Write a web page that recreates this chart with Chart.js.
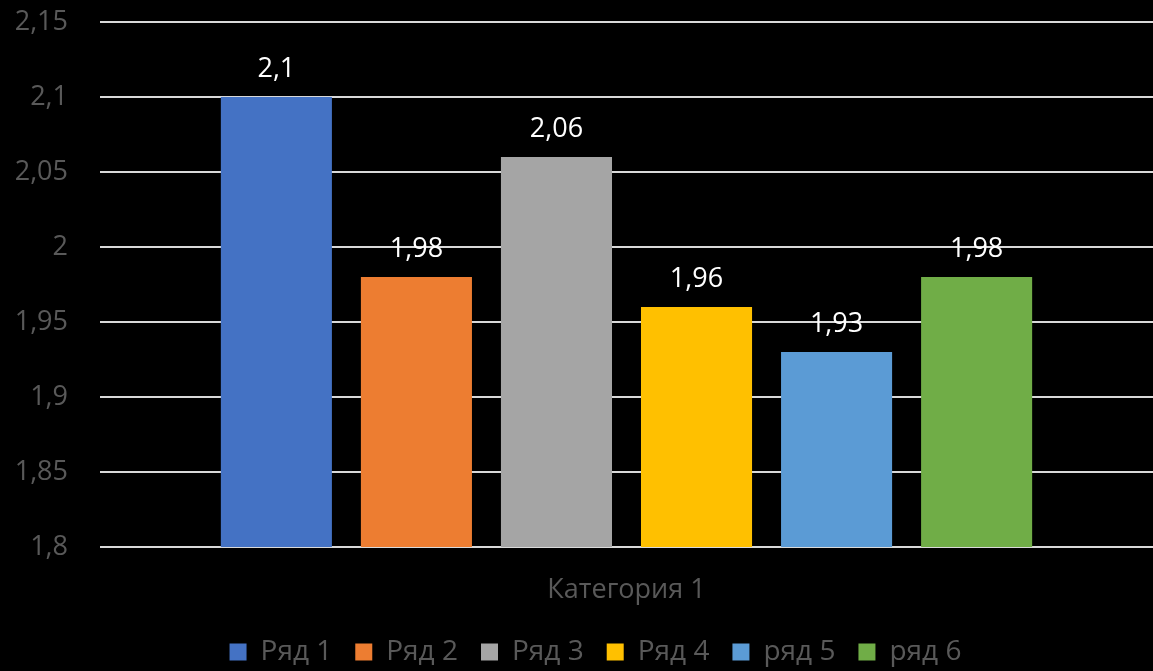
<!DOCTYPE html>
<html>
<head>
<meta charset="utf-8">
<script src="https://cdn.jsdelivr.net/npm/chart.js@4"></script>
<style>
html,body{margin:0;padding:0;background:#000;}
#wrap{width:1153px;height:671px;position:relative;}
</style>
</head>
<body>
<div id="wrap"><canvas id="c" width="1153" height="671"></canvas></div>
<script>
const categories = ['Категория 1'];
const seriesNames = ['Ряд 1', 'Ряд 2', 'Ряд 3', 'Ряд 4', 'ряд 5', 'ряд 6'];
const seriesValues = [2.1, 1.98, 2.06, 1.96, 1.93, 1.98];
const seriesColors = ['#4472C4', '#ED7D31', '#A5A5A5', '#FFC000', '#5B9BD5', '#70AD47'];
const yMin = 1.8, yMax = 2.15, yStep = 0.05;

const FONT = "'Open Sans', 'Liberation Sans', sans-serif";
const FS = 27;
const fmt = v => String(Math.round(v * 100) / 100).replace('.', ',');

const labelPlugin = {
  id: 'barLabels',
  afterDatasetsDraw(chart) {
    const ctx = chart.ctx;
    ctx.save();
    ctx.fillStyle = '#ffffff';
    ctx.font = FS + "px " + FONT;
    ctx.textAlign = 'center';
    ctx.textBaseline = 'alphabetic';
    chart.data.datasets.forEach((ds, i) => {
      const meta = chart.getDatasetMeta(i);
      meta.data.forEach((bar, j) => {
        ctx.fillText(fmt(ds.data[j]), bar.x, bar.y - 20);
      });
    });
    ctx.restore();
  }
};

const legendShift = {
  id: 'legendShift',
  afterLayout(chart) {
    const l = chart.legend;
    if (l) { l.left += 19; l.right += 19; }
  }
};

new Chart(document.getElementById('c'), {
  type: 'bar',
  data: {
    labels: categories,
    datasets: seriesNames.map((n, i) => ({
      label: n,
      data: [seriesValues[i]],
      backgroundColor: seriesColors[i],
      borderWidth: 0,
      categoryPercentage: 0.798,
      barPercentage: 0.793
    }))
  },
  options: {
    responsive: false,
    animation: false,
    layout: { padding: { top: 0, right: 0, left: 0, bottom: -5 } },
    plugins: {
      tooltip: { enabled: false },
      legend: {
        position: 'bottom',
        labels: {
          color: '#595959',
          font: { family: FONT, size: 28 },
          boxWidth: 17,
          boxHeight: 17,
          padding: 23
        }
      }
    },
    scales: {
      x: {
        afterFit(scale) { scale.height = 68; },
        grid: { display: false, drawTicks: false },
        border: { display: false },
        ticks: { color: '#595959', font: { family: FONT, size: FS }, padding: 27 }
      },
      y: {
        min: yMin,
        max: yMax,
        afterFit(scale) { scale.width = 100; scale.paddingTop = 22; scale.paddingBottom = 0; },
        grid: { color: '#d9d9d9', lineWidth: 2, drawTicks: false },
        border: { display: false },
        ticks: {
          stepSize: yStep,
          color: '#595959',
          font: { family: FONT, size: FS },
          padding: 32,
          callback: v => fmt(v)
        }
      }
    }
  },
  plugins: [labelPlugin, legendShift]
});
</script>
</body>
</html>
